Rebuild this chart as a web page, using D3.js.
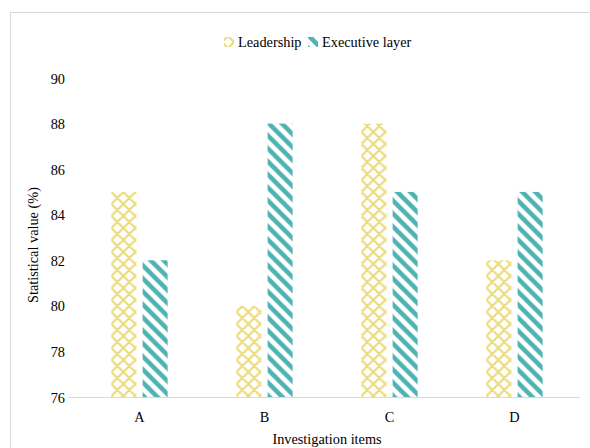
<!DOCTYPE html>
<html><head><meta charset="utf-8">
<script src="https://cdn.jsdelivr.net/npm/d3@7"></script>
</head><body style="margin:0;padding:0;background:#fff">
<script>
const categories = ["A","B","C","D"];
const seriesNames = ["Leadership","Executive layer"];
const leadership = [85,80,88,82];
const executive = [82,88,85,85];
const yTicks = [76,78,80,82,84,86,88,90];

const FONT='"Liberation Serif"';
const FS=13;
const SC=1.1;
const W=590,H=448;
const svg=d3.select("body").append("svg").attr("width",W).attr("height",H).style("display","block");
const defs=svg.append("defs");
// yellow lattice pattern
const p1=defs.append("pattern").attr("id","patY").attr("patternUnits","userSpaceOnUse").attr("width",12).attr("height",12);
p1.append("rect").attr("width",12).attr("height",12).attr("fill","#fff");
p1.append("path").attr("d","M0,0L12,12M12,0L0,12M-3,9L3,15M9,-3L15,3M-3,3L3,-3M9,15L15,9").attr("stroke","#ecdc7a").attr("stroke-width",2.2).attr("fill","none");
// teal diagonal stripes
const p2=defs.append("pattern").attr("id","patT").attr("patternUnits","userSpaceOnUse").attr("width",13).attr("height",13);
p2.append("rect").attr("width",13).attr("height",13).attr("fill","#fff");
p2.append("path").attr("d","M-3,-3L16,16M-3,10L3,16M10,-3L16,3").attr("stroke","#4fb3b3").attr("stroke-width",4.5).attr("fill","none");
const fills=["url(#patY)","url(#patT)"];

// border
svg.append("rect").attr("x",10.5).attr("y",12.5).attr("width",W).attr("height",H).attr("fill","none").attr("stroke","#d9d9d9");

const x0=d3.scaleBand().domain(categories).range([77,577]).paddingInner(0.55).paddingOuter(0.275);
const x1=d3.scaleBand().domain(seriesNames).range([0,x0.bandwidth()]).paddingInner(0.2);
const y=d3.scaleLinear().domain([76,90]).range([397,78]);

const data=categories.map((c,i)=>({cat:c,vals:[leadership[i],executive[i]]}));
const g=svg.append("g");
g.selectAll("g.grp").data(data).join("g").attr("transform",d=>`translate(${x0(d.cat)},0)`)
 .selectAll("rect").data(d=>d.vals.map((v,j)=>({v,j}))).join("rect")
 .attr("x",d=>x1(seriesNames[d.j])).attr("width",x1.bandwidth())
 .attr("y",d=>y(d.v)).attr("height",d=>y(76)-y(d.v)).attr("fill",d=>fills[d.j]);

// x axis
const xAxis=svg.append("g").attr("transform","translate(0,397)").call(d3.axisBottom(x0).tickSize(0).tickPadding(13));
xAxis.select(".domain").attr("stroke","#d9d9d9").attr("d","M68,0.5H580");
xAxis.selectAll("text").attr("font-size",FS).attr("fill","#000").style("font-family",FONT)
  .attr("y",null).attr("dy",null).attr("transform",`translate(0,25) scale(${SC})`);
// y axis
const yAxis=svg.append("g").attr("transform","translate(68,0)").call(d3.axisLeft(y).tickValues(yTicks).tickSize(0).tickPadding(3));
yAxis.select(".domain").remove();
yAxis.selectAll("text").attr("font-size",FS).attr("fill","#000").style("font-family",FONT)
  .attr("x",null).attr("dy",null).attr("transform",`translate(-3,5) scale(${SC})`);

// titles
svg.append("text").attr("transform",`translate(327,444) scale(${SC})`).attr("text-anchor","middle").attr("font-size",FS).style("font-family",FONT).text("Investigation items");
svg.append("text").attr("transform",`translate(38,245) rotate(-90) scale(${SC})`).attr("text-anchor","middle").attr("font-size",FS).style("font-family",FONT).text("Statistical value (%)");

// legend
const lg=svg.append("g");
const items=[{x:224,tx:238},{x:308,tx:322}];
seriesNames.forEach((n,i)=>{
  lg.append("rect").attr("x",items[i].x).attr("y",37).attr("width",10).attr("height",10).attr("fill",fills[i]);
  lg.append("text").attr("transform",`translate(${items[i].tx},47) scale(${SC})`).attr("font-size",FS).style("font-family",FONT).text(n);
});
</script>
</body></html>
